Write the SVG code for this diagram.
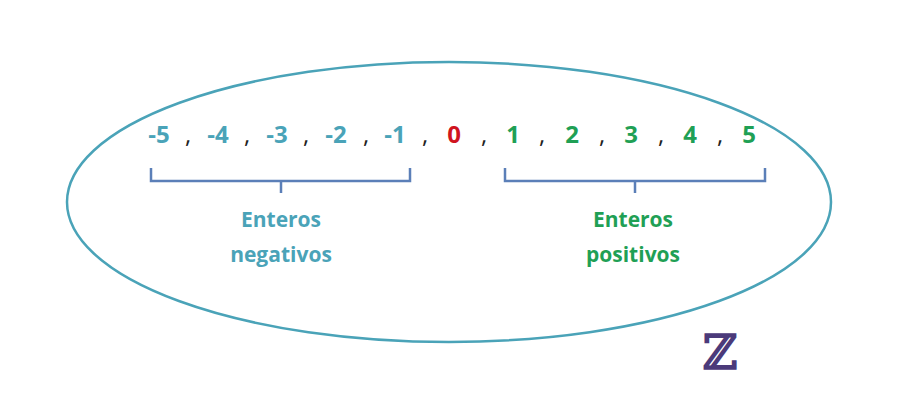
<svg xmlns="http://www.w3.org/2000/svg" width="898" height="400" viewBox="0 0 898 400">
<style>
text{font-family:"Open Sans","Liberation Sans",sans-serif;font-weight:bold;text-anchor:middle}
.n{font-size:24px}.neg{fill:#4aa3b8}.pos{fill:#1fa055}.c{fill:#222;font-weight:normal}
.lab{font-size:21px}
.br{fill:none;stroke:#5b7fb8;stroke-width:2.5}
</style>
<rect width="898" height="400" fill="#fff"/>
<g id="ellipse"><ellipse cx="449" cy="202" rx="382" ry="140" fill="none" stroke="#4aa3b8" stroke-width="2.5"/></g>
<g id="numbers">
<text x="159" y="143" class="n neg">-5</text><text x="218" y="143" class="n neg">-4</text><text x="277" y="143" class="n neg">-3</text><text x="336" y="143" class="n neg">-2</text><text x="395" y="143" class="n neg">-1</text>
<text x="454" y="143" class="n" fill="#d0141e">0</text>
<text x="513" y="143" class="n pos">1</text><text x="572" y="143" class="n pos">2</text><text x="631" y="143" class="n pos">3</text><text x="690" y="143" class="n pos">4</text><text x="749" y="143" class="n pos">5</text>
<text x="188" y="143" class="n c">,</text><text x="247" y="143" class="n c">,</text><text x="306" y="143" class="n c">,</text><text x="366" y="143" class="n c">,</text><text x="425" y="143" class="n c">,</text><text x="484" y="143" class="n c">,</text><text x="542" y="143" class="n c">,</text><text x="602" y="143" class="n c">,</text><text x="661" y="143" class="n c">,</text><text x="720" y="143" class="n c">,</text>
</g>
<g id="connectors">
<path class="br" d="M151,168 V181 H410 V168 M281,181 V193"/>
<path class="br" d="M505,168 V181 H765 V168 M635,181 V193"/>
</g>
<g id="neg-label"><text x="281" y="227" class="lab neg">Enteros</text><text x="281" y="262" class="lab neg">negativos</text></g>
<g id="pos-label"><text x="633" y="227" class="lab pos">Enteros</text><text x="633" y="262" class="lab pos">positivos</text></g>
<g id="Z"><text x="720" y="369" style="font-family:'DejaVu Serif',serif;font-size:48px;font-weight:bold;fill:#4b3a7a">ℤ</text></g>
</svg>
